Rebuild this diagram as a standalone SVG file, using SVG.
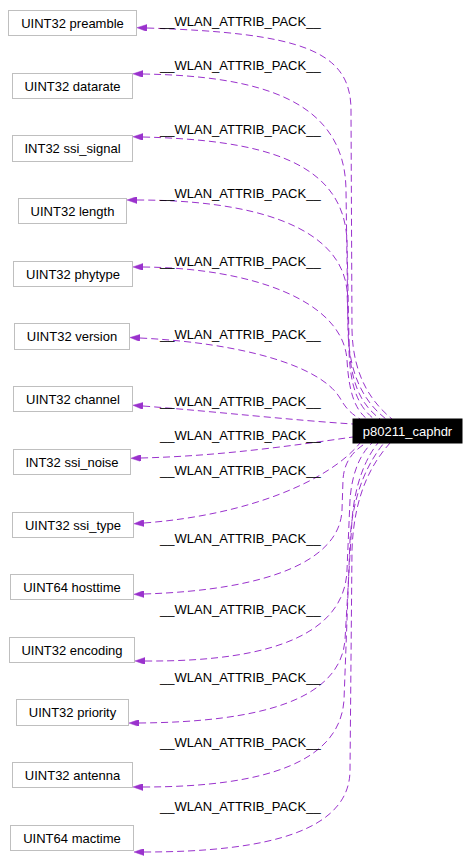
<svg xmlns="http://www.w3.org/2000/svg" width="471" height="868" viewBox="0 0 471 868">
<style>
text{font-family:"Liberation Sans",Arial,Helvetica,sans-serif;font-size:13px;fill:#000}
.box{fill:#fff;stroke:#bfbfbf;stroke-width:1}
.bt{text-anchor:middle}
.edge{fill:none;stroke:#9a32cd;stroke-width:1;stroke-dasharray:7,4;marker-start:url(#ah)}
</style>
<defs>
<marker id="ah" viewBox="0 0 10 7" refX="0" refY="3.5" markerWidth="10" markerHeight="7" markerUnits="userSpaceOnUse" orient="auto-start-reverse">
<path d="M0,0 L10,3.5 L0,7 z" fill="#9a32cd" stroke="#9a32cd" stroke-width="0.5" stroke-dasharray="none"/>
</marker>
</defs>
<rect width="471" height="868" fill="#fff"/>
<g id="edges">
<path class="edge" d="M147,28 C300,33 351,50 351,110 L352,330 C353,380 375,405 392,419"/>
<path class="edge" d="M143,74 C260,76 345,100 346,190 L348,330 C349,380 368,405 386,419"/>
<path class="edge" d="M143,137 C260,140 343,160 347,240 L349,340 C350,385 362,405 380,419"/>
<path class="edge" d="M137,200 C250,200 340,225 347,290 L349,350 C350,390 360,408 374,419"/>
<path class="edge" d="M143,267 C250,268 343,300 347,360 C349,395 356,410 367,419"/>
<path class="edge" d="M140,338 C240,343 320,365 340,398 C345,407 350,413 360,419"/>
<path class="edge" d="M143,406 C220,412 290,420 353,424"/>
<path class="edge" d="M141,458 C220,456 290,446 353,437"/>
<path class="edge" d="M144,523 C250,515 330,480 360,443"/>
<path class="edge" d="M144,594 C270,590 340,560 342,510 L343,480 C344,460 355,450 366,443"/>
<path class="edge" d="M145,661 C280,662 345,630 347,570 L350,500 C352,470 362,452 372,443"/>
<path class="edge" d="M139,723 C260,722 340,700 345,640 L352,520 C355,480 368,455 378,443"/>
<path class="edge" d="M143,787 C270,787 340,760 344,700 L350,540 C353,490 370,460 384,443"/>
<path class="edge" d="M144,852 C270,852 350,830 350,770 L352,550 C354,490 375,460 390,443"/>
</g>
<g id="edge-labels">
<text x="160" y="26">__WLAN_ATTRIB_PACK__</text>
<text x="160" y="70">__WLAN_ATTRIB_PACK__</text>
<text x="160" y="134">__WLAN_ATTRIB_PACK__</text>
<text x="160" y="198">__WLAN_ATTRIB_PACK__</text>
<text x="160" y="266">__WLAN_ATTRIB_PACK__</text>
<text x="160" y="339">__WLAN_ATTRIB_PACK__</text>
<text x="160" y="406">__WLAN_ATTRIB_PACK__</text>
<text x="160" y="440">__WLAN_ATTRIB_PACK__</text>
<text x="160" y="475">__WLAN_ATTRIB_PACK__</text>
<text x="160" y="543">__WLAN_ATTRIB_PACK__</text>
<text x="160" y="614">__WLAN_ATTRIB_PACK__</text>
<text x="160" y="682">__WLAN_ATTRIB_PACK__</text>
<text x="160" y="747">__WLAN_ATTRIB_PACK__</text>
<text x="160" y="811">__WLAN_ATTRIB_PACK__</text>
</g>
<g id="main"><rect x="353" y="419" width="109" height="24" fill="#000" stroke="#000"/><text x="407.5" y="436" class="bt" style="fill:#fff">p80211_caphdr</text></g>
<g id="preamble"><rect class="box" x="8.5" y="10.5" width="128" height="25"/><text class="bt" x="72.5" y="27.5">UINT32 preamble</text></g>
<g id="datarate"><rect class="box" x="12.5" y="73.5" width="120" height="25"/><text class="bt" x="72.5" y="90.5">UINT32 datarate</text></g>
<g id="ssi_signal"><rect class="box" x="12.5" y="135.5" width="120" height="26"/><text class="bt" x="72.5" y="153">INT32 ssi_signal</text></g>
<g id="length"><rect class="box" x="18.5" y="198.5" width="108" height="25"/><text class="bt" x="72.5" y="215.5">UINT32 length</text></g>
<g id="phytype"><rect class="box" x="13.5" y="261.5" width="119" height="25"/><text class="bt" x="73" y="278.5">UINT32 phytype</text></g>
<g id="version"><rect class="box" x="14.5" y="323.5" width="115" height="26"/><text class="bt" x="72" y="341">UINT32 version</text></g>
<g id="channel"><rect class="box" x="13.5" y="386.5" width="119" height="25"/><text class="bt" x="73" y="403.5">UINT32 channel</text></g>
<g id="ssi_noise"><rect class="box" x="13.5" y="449.5" width="117" height="25"/><text class="bt" x="72" y="466.5">INT32 ssi_noise</text></g>
<g id="ssi_type"><rect class="box" x="12.5" y="512.5" width="121" height="25"/><text class="bt" x="73" y="529.5">UINT32 ssi_type</text></g>
<g id="hosttime"><rect class="box" x="10.5" y="574.5" width="123" height="25"/><text class="bt" x="72" y="591.5">UINT64 hosttime</text></g>
<g id="encoding"><rect class="box" x="9.5" y="637.5" width="125" height="25"/><text class="bt" x="72" y="654.5">UINT32 encoding</text></g>
<g id="priority"><rect class="box" x="16.5" y="699.5" width="112" height="26"/><text class="bt" x="72.5" y="717">UINT32 priority</text></g>
<g id="antenna"><rect class="box" x="12.5" y="762.5" width="120" height="25"/><text class="bt" x="72.5" y="779.5">UINT32 antenna</text></g>
<g id="mactime"><rect class="box" x="10.5" y="825.5" width="123" height="25"/><text class="bt" x="72" y="842.5">UINT64 mactime</text></g>
</svg>
